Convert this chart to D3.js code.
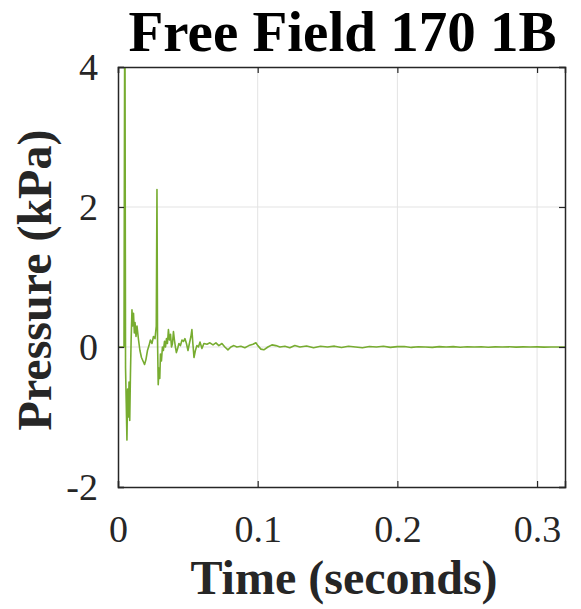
<!DOCTYPE html>
<html>
<head>
<meta charset="utf-8">
<script src="https://cdn.jsdelivr.net/npm/d3@7"></script>
<style>
  html, body { margin: 0; padding: 0; background: #fff; }
  svg { display: block; }
</style>
</head>
<body>
<svg id="chart" width="581" height="609"></svg>
<script>
// ---- data ----
const chartTitle = "Free Field 170 1B";
const xLabel = "Time (seconds)";
const yLabel = "Pressure (kPa)";
const xTicks = [0, 0.1, 0.2, 0.3];
const yTicks = [-2, 0, 2, 4];
const xDomain = [0, 0.32];
const yDomain = [-2, 4];

const timeS = [
  0, 0.0043, 0.0049, 0.0054, 0.0059, 0.0064, 0.0069, 0.0074, 0.0079, 0.0084,
  0.0089, 0.0094, 0.0100, 0.0105, 0.0111, 0.0117, 0.0122, 0.0129, 0.0136, 0.0147,
  0.0157, 0.0168, 0.0179, 0.0190, 0.0200, 0.0211, 0.0222, 0.0232, 0.0243, 0.0254,
  0.0265, 0.0274, 0.0279, 0.0283, 0.0288, 0.0293, 0.0299, 0.0304, 0.0311, 0.0318,
  0.0325, 0.0333, 0.0340, 0.0347, 0.0354, 0.0361, 0.0368, 0.0376, 0.0383, 0.0390,
  0.0397, 0.0404, 0.0411, 0.0418, 0.0426, 0.0436, 0.0447, 0.0458, 0.0469, 0.0479,
  0.0490, 0.0501, 0.0511, 0.0522, 0.0529, 0.0536, 0.0544, 0.0554, 0.0565, 0.0576,
  0.0587, 0.0601, 0.0615, 0.0637, 0.0658, 0.0680, 0.0701, 0.0722, 0.0744, 0.0765,
  0.0787, 0.0808, 0.0830, 0.0851, 0.0880, 0.0908, 0.0937, 0.0966, 0.0987, 0.1001,
  0.1023, 0.1044, 0.1073, 0.1102, 0.1130, 0.1159, 0.1195, 0.1230, 0.1266, 0.1302,
  0.1350, 0.1400, 0.1450, 0.1500, 0.1550, 0.1600, 0.1650, 0.1700, 0.1750, 0.1800,
  0.1850, 0.1900, 0.1950, 0.2000, 0.2050, 0.2100, 0.2150, 0.2200, 0.2250, 0.2300,
  0.2350, 0.2400, 0.2450, 0.2500, 0.2550, 0.2600, 0.2650, 0.2700, 0.2750, 0.2800,
  0.2850, 0.2900, 0.2950, 0.3000, 0.3050, 0.3100, 0.3150, 0.3200
];
const pressureKPa = [
  0, 0, 5.5, -0.3, -0.8, -1.33, -0.6, -1.0, -0.5, -1.05,
  -0.4, 0.1, 0.53, 0.3, 0.48, 0.2, 0.35, 0.15, 0.3, 0.1,
  -0.05, -0.15, -0.2, -0.25, -0.18, -0.05, 0.02, 0.1, 0.05, 0.15,
  0.12, 0.3, 2.25, 0.1, -0.54, -0.3, -0.45, -0.1, -0.2, 0.0,
  -0.05, 0.08, 0.0, 0.12, 0.05, 0.25, 0.1, 0.18, 0.0, 0.05,
  0.22, 0.1, 0.0, -0.08, -0.03, 0.05, 0.02, 0.1, 0.08, 0.12,
  0.05, -0.05, 0.05, 0.15, 0.25, 0.05, -0.15, -0.05, 0.02, 0.0,
  0.07, -0.02, 0.05, 0.04, 0.06, 0.03, 0.06, 0.02, 0.05, 0.0,
  -0.04, 0.0, 0.02, 0.0, 0.01, -0.01, 0.02, 0.04, 0.06, 0.02,
  -0.03, -0.04, 0.0, 0.03, 0.02, 0.0, 0.01, -0.01, 0.02, 0.0,
  0.015, -0.01, 0.01, 0.0, 0.012, -0.008, 0.01, 0.0, -0.01, 0.008,
  0.0, 0.01, -0.005, 0.005, 0.008, -0.006, 0.004, 0.0, -0.005, 0.006,
  0.0, 0.005, -0.004, 0.003, 0.0, 0.004, -0.003, 0.002, 0.0, 0.003,
  -0.002, 0.002, 0.0, 0.002, -0.002, 0.001, 0.0, 0.0
];

// ---- layout ----
const svg = d3.select("#chart");
const mLeft = 118, mRight = 565, mTop = 67, mBottom = 487;
const x = d3.scaleLinear().domain(xDomain).range([mLeft, mRight]);
const y = d3.scaleLinear().domain(yDomain).range([mBottom, mTop]);
const axisColor = "#262626";
const serif = "'Liberation Serif', 'Times New Roman', serif";

// grid
const grid = svg.append("g");
grid.selectAll("line.gx").data(xTicks.filter(d => d > xDomain[0]))
  .join("line").attr("x1", d => x(d)).attr("x2", d => x(d))
  .attr("y1", mTop).attr("y2", mBottom)
  .attr("stroke", "#e3e3e3").attr("stroke-width", 1);
grid.selectAll("line.gy").data(yTicks.filter(d => d > yDomain[0] && d < yDomain[1]))
  .join("line").attr("x1", mLeft).attr("x2", mRight)
  .attr("y1", d => y(d)).attr("y2", d => y(d))
  .attr("stroke", "#e3e3e3").attr("stroke-width", 1);

// clip
svg.append("clipPath").attr("id", "plotclip").append("rect")
  .attr("x", mLeft).attr("y", mTop).attr("width", mRight - mLeft).attr("height", mBottom - mTop);

// line
const pts = timeS.map((t, i) => [t, pressureKPa[i]]);
svg.append("path")
  .datum(pts)
  .attr("clip-path", "url(#plotclip)")
  .attr("fill", "none")
  .attr("stroke", "#77AC30")
  .attr("stroke-width", 1.6)
  .attr("stroke-linejoin", "round")
  .attr("d", d3.line().x(d => x(d[0])).y(d => y(d[1])));

// axes (ticks inside)
const tickFmt = d => String(d);
const xAxisB = d3.axisBottom(x).tickValues(xTicks).tickSize(-6).tickPadding(28).tickFormat(tickFmt);
const xAxisT = d3.axisTop(x).tickValues(xTicks).tickSize(-6).tickFormat("");
const yAxisL = d3.axisLeft(y).tickValues(yTicks).tickSize(-6).tickPadding(20).tickFormat(tickFmt);
const yAxisR = d3.axisRight(y).tickValues(yTicks).tickSize(-6).tickFormat("");

function styleAxis(g) {
  g.select(".domain").attr("stroke", axisColor).attr("stroke-width", 1.5);
  g.selectAll(".tick line").attr("stroke", axisColor).attr("stroke-width", 1.2);
  g.selectAll(".tick text").attr("fill", axisColor)
    .style("font-family", serif).style("font-size", "38px");
}
svg.append("g").attr("transform", `translate(0,${mBottom})`).call(xAxisB).call(styleAxis);
svg.append("g").attr("transform", `translate(0,${mTop})`).call(xAxisT).call(styleAxis);
svg.append("g").attr("transform", `translate(${mLeft},0)`).call(yAxisL).call(styleAxis);
svg.append("g").attr("transform", `translate(${mRight},0)`).call(yAxisR).call(styleAxis);

// title and labels
svg.append("text").attr("x", 342.5).attr("y", 51)
  .attr("text-anchor", "middle").attr("fill", "#000")
  .style("font-family", serif).style("font-weight", "bold").style("font-size", "57px")
  .text(chartTitle);
svg.append("text").attr("x", 344).attr("y", 594)
  .attr("text-anchor", "middle").attr("fill", axisColor)
  .style("font-family", serif).style("font-weight", "bold").style("font-size", "48px")
  .text(xLabel);
svg.append("text").attr("transform", `translate(51,${(mTop + mBottom) / 2 + 3}) rotate(-90)`)
  .attr("text-anchor", "middle").attr("fill", axisColor)
  .style("font-family", serif).style("font-weight", "bold").style("font-size", "48px")
  .text(yLabel);
</script>
</body>
</html>
